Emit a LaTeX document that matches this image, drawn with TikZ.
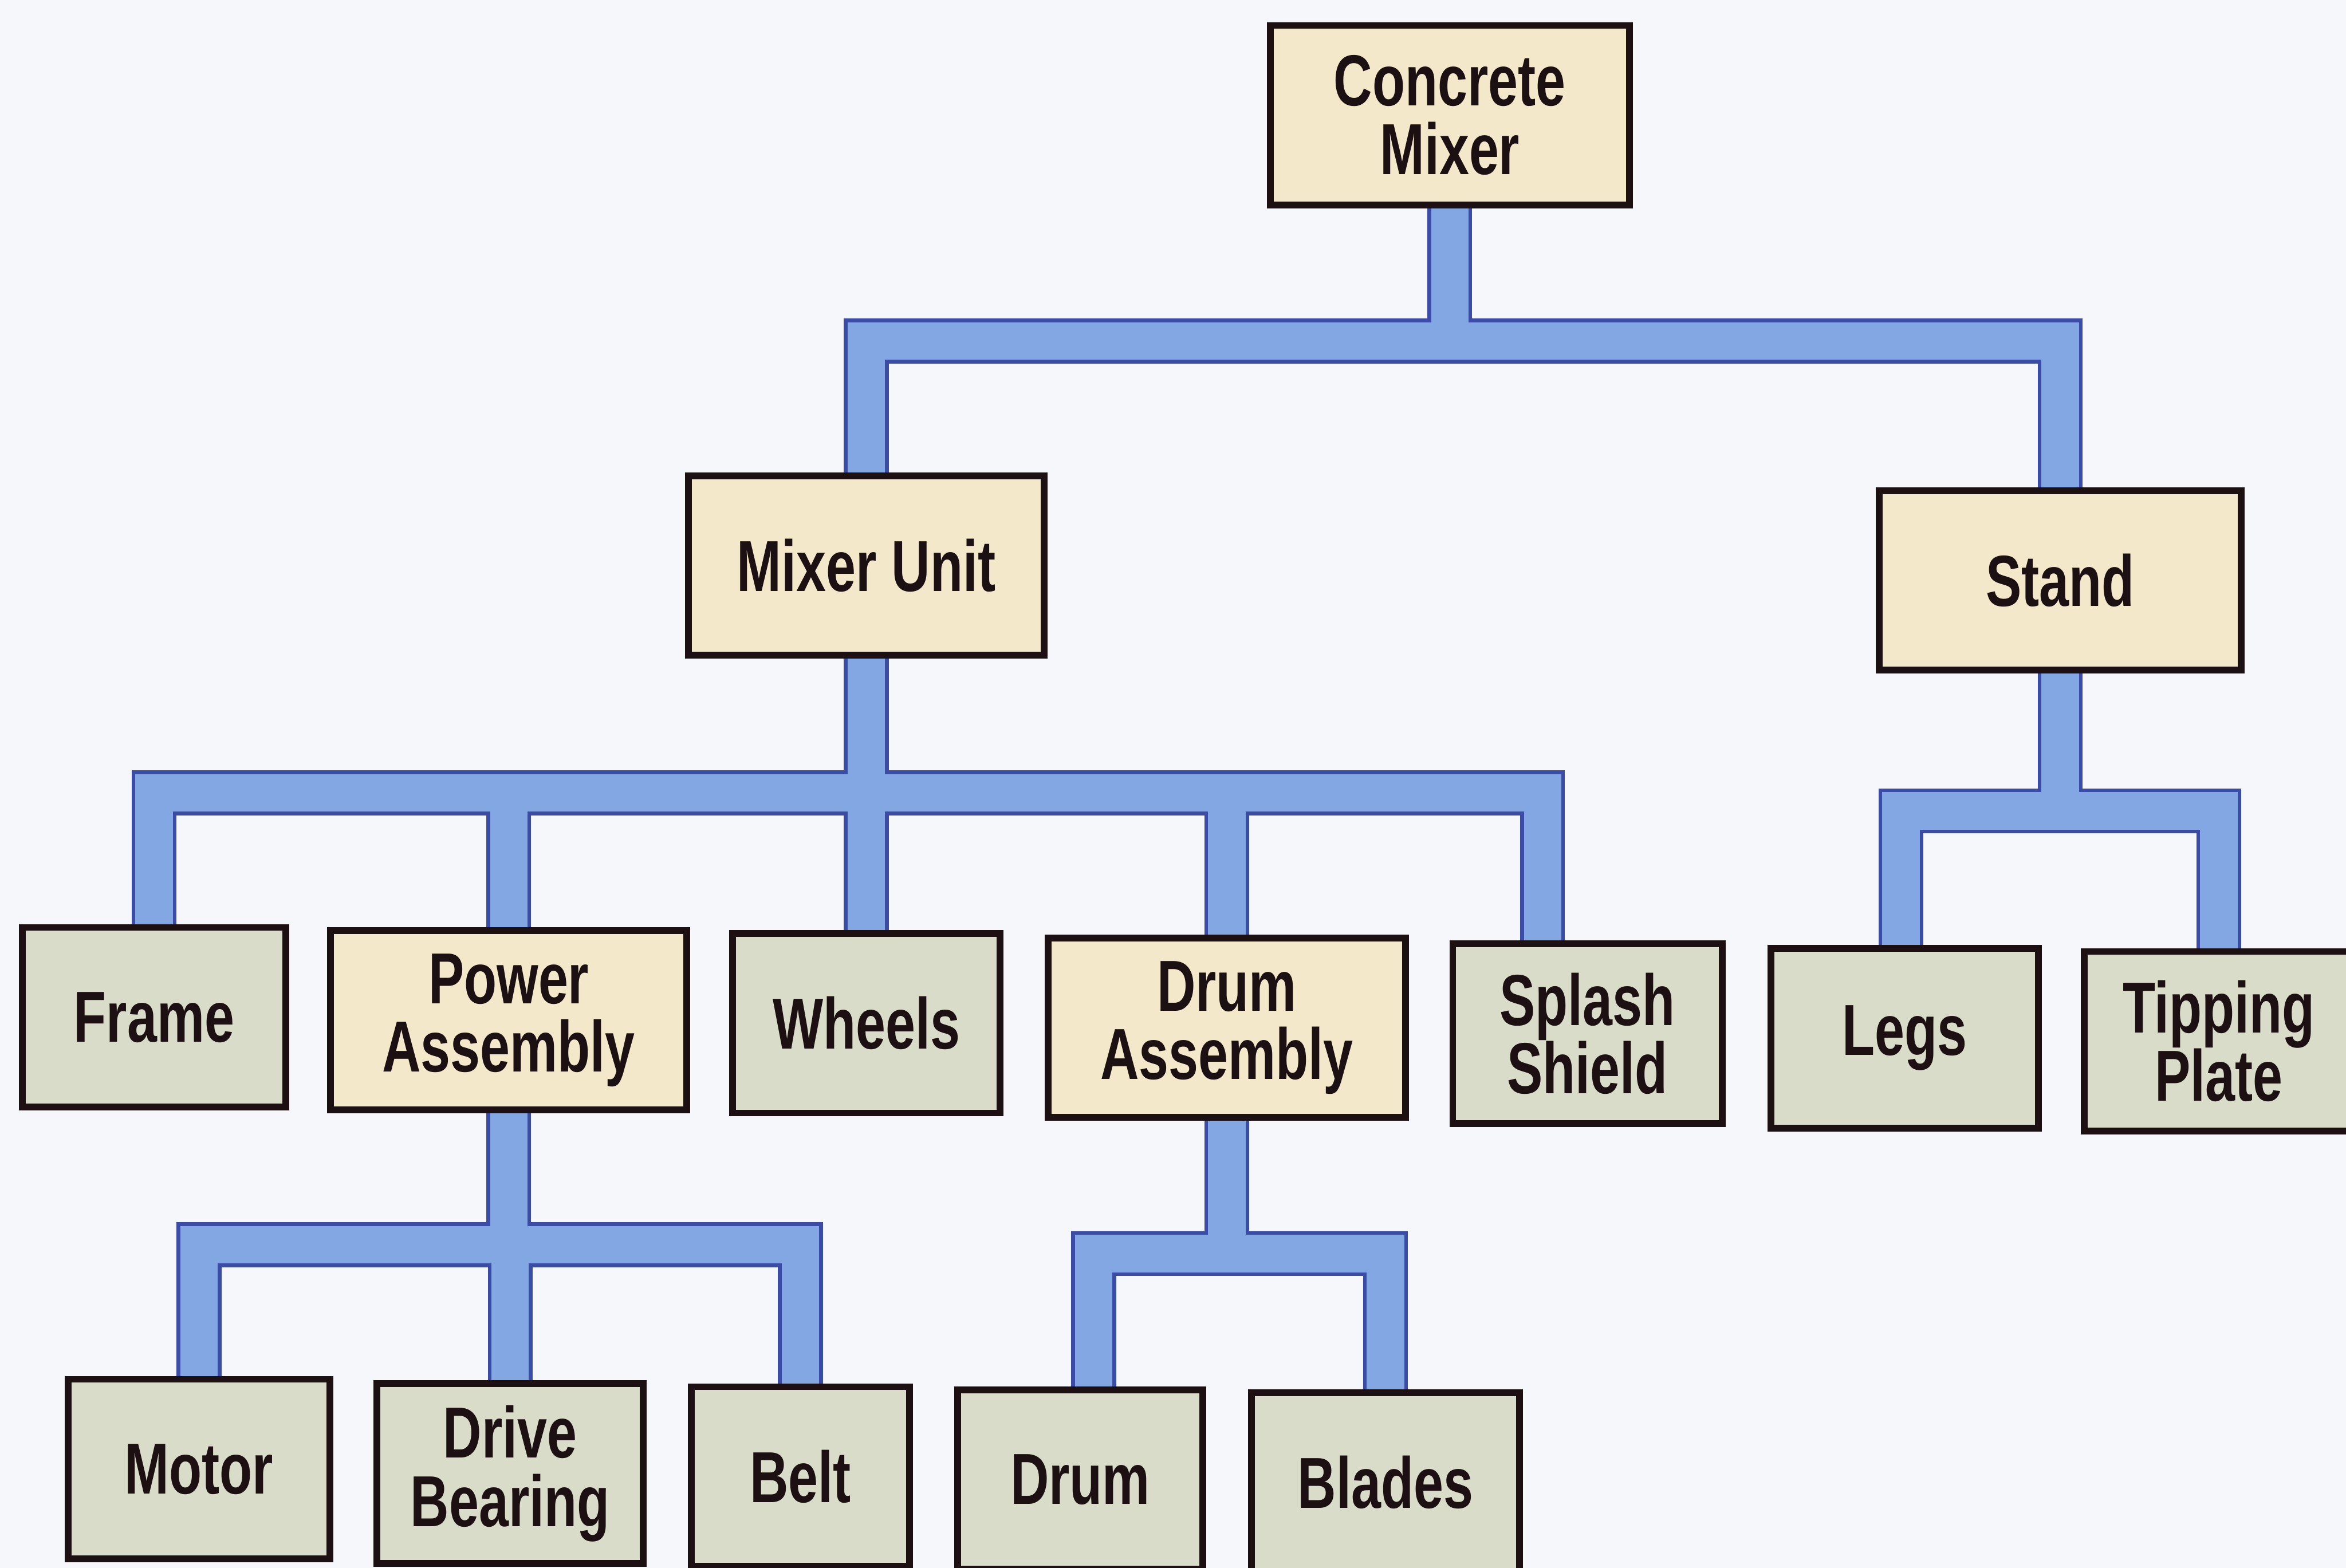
\documentclass[tikz,border=0pt]{standalone}
\usepackage{fontspec}
\newfontfamily\partfont{Liberation Sans}[FakeStretch=0.74]
\usepackage{tikz}
\usetikzlibrary{backgrounds}
\definecolor{cmBar}{HTML}{82A7E2}
\definecolor{cmBarEdge}{HTML}{3A4CA6}
\definecolor{cmCream}{HTML}{F4E8CB}
\definecolor{cmSage}{HTML}{D9DCC8}
\definecolor{cmInk}{HTML}{1C1013}
\definecolor{cmPaper}{HTML}{F6F7FA}

\begin{document}
\begin{tikzpicture}[x=0.02cm, y=-0.02cm,
  part/.style={draw=cmInk, line width=0.09cm, align=center, inner sep=0pt,
               text=cmInk, minimum height=120*0.02cm,
               font=\partfont\bfseries\fontsize{27.5}{26}\selectfont},
  asm/.style={part, fill=cmCream},
  leaf/.style={part, fill=cmSage},
  wd/.style={minimum width=#1*0.02cm},
  bar/.style={draw=cmBar, line width=0.5cm, line join=miter,
              preaction={draw=cmBarEdge, line width=0.6cm, line join=miter}},
]
\useasboundingbox (0,0) rectangle (1568,1048);

% top and second level
\node[asm, wd=240] (cm) at (969,77) {Concrete\\Mixer};
\node[asm, wd=238] (mu) at (579,378) {Mixer Unit};
\node[asm, wd=242] (st) at (1377,388) {Stand};

% third level
\node[leaf, wd=176] (fr) at (103,680) {Frame};
\node[asm, wd=238] (pa) at (340,682) {Power\\Assembly};
\node[leaf, wd=179] (wh) at (579,684) {Wheels};
\node[asm, wd=239] (da) at (820,687) {Drum\\Assembly};
\node[leaf, wd=180] (ss) at (1061,691) {Splash\\Shield};
\node[leaf, wd=179] (lg) at (1273,694) {Legs};
\node[leaf, wd=180] (tp) at (1483,696) {Tipping\\Plate};

% bottom level
\node[leaf, wd=175] (mo) at (133,982) {Motor};
\node[leaf, wd=178] (db) at (341,985) {Drive\\Bearing};
\node[leaf, wd=146] (be) at (535,987) {Belt};
\node[leaf, wd=164] (dr) at (722,989) {Drum};
\node[leaf, wd=179] (bl) at (926,991) {Blades};

\begin{scope}[on background layer]
\fill[cmPaper] (0,0) rectangle (1568,1048);
\coordinate (j0) at (969,228);
\coordinate (j1) at (579,530);
\coordinate (j2) at (1377,542);
\coordinate (j3) at (340,832);
\coordinate (j4) at (820,838);
\draw[bar] (cm.south) -- (j0) (mu.north) |- (j0) -| (st.north);
\draw[bar] (mu.south) -- (j1) (fr.north) |- (j1) -| ([xshift=-0.6cm]ss.north)
  (pa.north) -- (pa.north |- j1) (wh.north) -- (j1) (da.north) -- (da.north |- j1);
\draw[bar] (st.south) -- (j2) ([xshift=-0.05cm]lg.north) |- (j2) -| (tp.north);
\draw[bar] (pa.south) -- (j3) (mo.north) |- (j3) -| (be.north) (db.north) -- (db.north |- j3);
\draw[bar] (da.south) -- (j4) ([xshift=0.18cm]dr.north) |- (j4) -| (bl.north);
\end{scope}
\end{tikzpicture}
\end{document}
